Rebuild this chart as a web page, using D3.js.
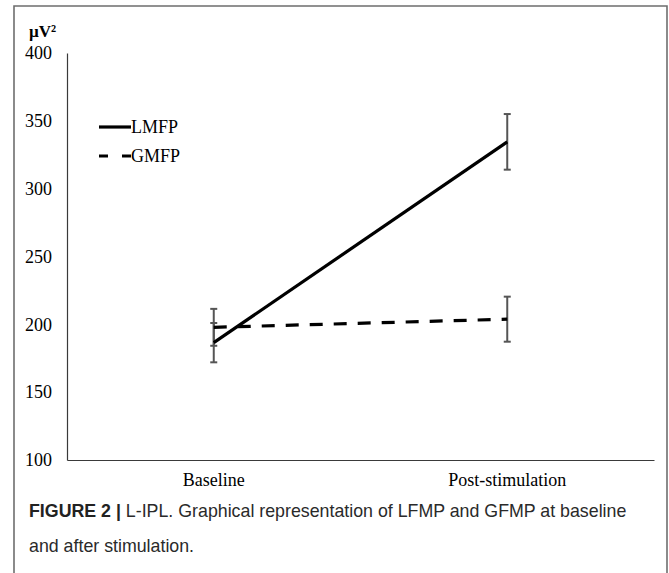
<!DOCTYPE html>
<html>
<head>
<meta charset="utf-8">
<script src="https://cdn.jsdelivr.net/npm/d3@7"></script>
<style>
  body { margin: 0; background: #fff; }
  svg { display: block; }
</style>
</head>
<body>
<svg id="chart" width="669" height="573"></svg>
<script>
// data
var categories = ["Baseline", "Post-stimulation"];
var lmfpValues = [186.5, 334.5];
var lmfpErrors = [14.5, 20.5];
var gmfpValues = [197.8, 203.8];
var gmfpErrors = [13.6, 16.6];
var yTicks = [100, 150, 200, 250, 300, 350, 400];

var series = [
    {name: "LMFP", values: lmfpValues, errors: lmfpErrors, dash: null},
    {name: "GMFP", values: gmfpValues, errors: gmfpErrors, dash: "13,11"}
];

var svg = d3.select("#chart");

// outer frame of the figure
svg.append("path")
    .attr("d", "M14,573 L14,6 L667,6 L667,573")
    .attr("fill", "none")
    .attr("stroke", "#6e6e6e")
    .attr("stroke-width", 1.6);

// set the ranges
var x = d3.scaleBand()
    .domain(categories)
    .range([67, 654]);

var y = d3.scaleLinear()
    .domain([100, 400])
    .range([460, 53]);

var serif = "'Liberation Serif', 'Times New Roman', serif";

// y axis: line and labels only
var yAxis = svg.append("g")
    .attr("transform", "translate(67,0)")
    .call(d3.axisLeft(y).tickValues(yTicks).tickSize(0).tickPadding(15));
yAxis.select(".domain").attr("stroke", "#3a3a3a").attr("stroke-width", 1.2);
yAxis.selectAll("text")
    .style("font-family", serif)
    .style("font-size", "18px")
    .attr("fill", "#000");

// x axis
var xAxis = svg.append("g")
    .attr("transform", "translate(0,460)")
    .call(d3.axisBottom(x).tickSize(0).tickPadding(13));
xAxis.select(".domain").attr("stroke", "#3a3a3a").attr("stroke-width", 1.2);
xAxis.selectAll("text")
    .style("font-family", serif)
    .style("font-size", "18px")
    .attr("fill", "#000");

// unit label
svg.append("text")
    .attr("x", 29)
    .attr("y", 37)
    .style("font-family", serif)
    .style("font-size", "17px")
    .style("font-weight", "bold")
    .text("µV²");

var cx = function(i) { return x(categories[i]) + x.bandwidth() / 2; };

// error bars
series.forEach(function(s) {
    var g = svg.append("g").attr("stroke", "#555").attr("stroke-width", 2);
    s.values.forEach(function(v, i) {
        var top = y(v + s.errors[i]), bot = y(v - s.errors[i]), px = cx(i);
        g.append("line").attr("x1", px).attr("x2", px).attr("y1", top).attr("y2", bot);
        g.append("line").attr("x1", px - 3.5).attr("x2", px + 3.5).attr("y1", top).attr("y2", top);
        g.append("line").attr("x1", px - 3.5).attr("x2", px + 3.5).attr("y1", bot).attr("y2", bot);
    });
});

// lines
var line = d3.line()
    .x(function(d, i) { return cx(i); })
    .y(function(d) { return y(d); });

series.forEach(function(s) {
    svg.append("path")
        .datum(s.values)
        .attr("d", line)
        .attr("fill", "none")
        .attr("stroke", "#000")
        .attr("stroke-width", 3.2)
        .attr("stroke-dasharray", s.dash);
});

// legend
var legend = svg.append("g");
series.forEach(function(s, i) {
    var ly = 127 + i * 29;
    legend.append("line")
        .attr("x1", 99).attr("x2", 131)
        .attr("y1", ly).attr("y2", ly)
        .attr("stroke", "#000")
        .attr("stroke-width", 3.2)
        .attr("stroke-dasharray", s.dash ? "9,14" : null);
    legend.append("text")
        .attr("x", 131)
        .attr("y", ly + 6)
        .style("font-family", serif)
        .style("font-size", "18px")
        .text(s.name);
});

// caption
var sans = "'Liberation Sans', Arial, sans-serif";
var cap = svg.append("text")
    .attr("x", 29)
    .attr("y", 517)
    .style("font-family", sans)
    .style("font-size", "17.8px")
    .attr("fill", "#2a2a2a");
cap.append("tspan").style("font-weight", "bold").attr("fill", "#222").text("FIGURE 2 | ");
cap.append("tspan").text("L-IPL. Graphical representation of LFMP and GFMP at baseline");
svg.append("text")
    .attr("x", 29)
    .attr("y", 552)
    .style("font-family", sans)
    .style("font-size", "17.8px")
    .attr("fill", "#2a2a2a")
    .text("and after stimulation.");
</script>
</body>
</html>
